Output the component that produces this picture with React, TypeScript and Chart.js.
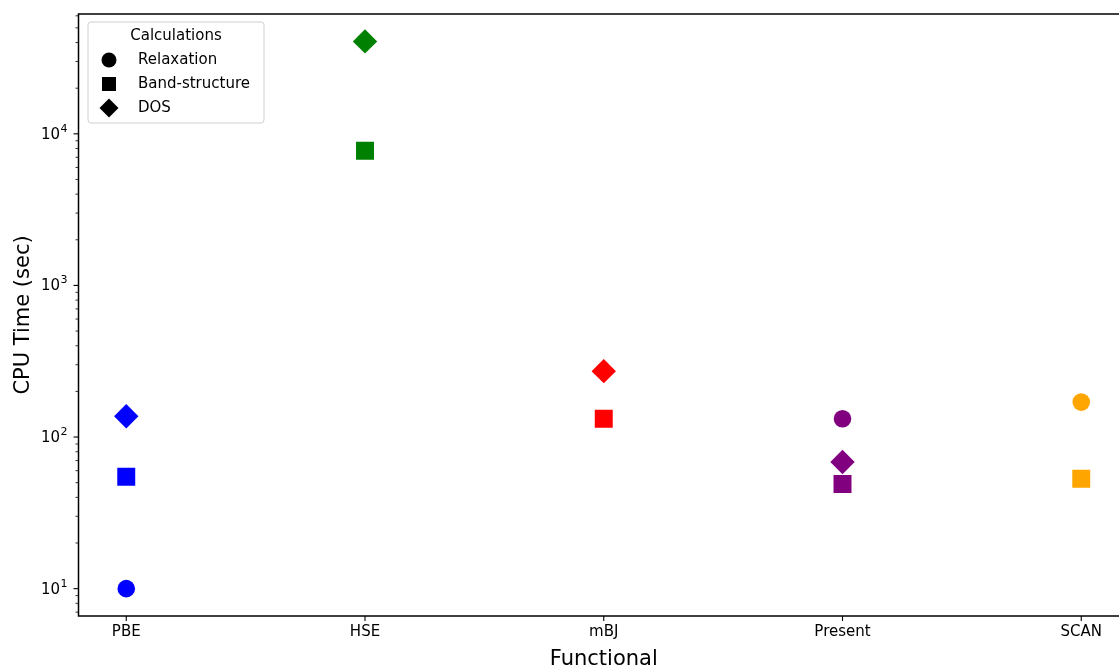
import React, { useEffect, useRef } from "react";
import { Chart, registerables } from "chart.js";

Chart.register(...registerables);

// ---- data ----
const categories = ["PBE", "HSE", "mBJ", "Present", "SCAN"];
const functionalColors = ["#0000ff", "#008000", "#ff0000", "#800080", "#ffa500"];
const calculations = ["Relaxation", "Band-structure", "DOS"];
const relaxation: (number | null)[] = [10.0, null, null, 132, 170];
const bandStructure: (number | null)[] = [54.7, 7740, 132, 49.0, 53.1];
const dos: (number | null)[] = [137, 40700, 272, 68.4, null];
const yMajorTicks = [10, 100, 1000, 10000];
const yTickBase = "10";
const yTickExponents = ["1", "2", "3", "4"];
const yMin = 6.6;
const yMax = 61700;
const xMin = -0.2;
const xMax = 4.2;

const seriesValues = [relaxation, bandStructure, dos];
const pointStyles = ["circle", "rect", "rectRot"];
const pointRadii = [8.8, 12.7, 12.2];

const FONT = "DejaVu Sans";
const CANVAS_W = 1119;
const CANVAS_H = 669;
// the axes box runs a little past the right edge of the picture
const AXES_RIGHT = 1129;

function minorTicks(): number[] {
  const out: number[] = [];
  for (let d = 1; d <= 10000; d *= 10) {
    for (let m = 2; m <= 9; m++) {
      const v = m * d;
      if (v >= yMin && v <= yMax) out.push(v);
    }
  }
  return out;
}

const zeroPadding = (scale: any) => {
  scale.paddingTop = 0;
  scale.paddingBottom = 0;
  scale.paddingLeft = 0;
  scale.paddingRight = 0;
};

const extendRightPlugin = {
  id: "extendRight",
  afterLayout(chart: any) {
    const a = chart.chartArea;
    const xs = chart.scales.x;
    a.right = AXES_RIGHT;
    a.width = a.right - a.left;
    xs.right = AXES_RIGHT;
    xs.width = xs.right - xs.left;
    xs.configure();
  },
};

const axesPlugin = {
  id: "mplAxes",
  afterDraw(chart: any) {
    const { ctx, chartArea: a, scales } = chart;
    const ys = scales.y;
    const xs = scales.x;
    ctx.save();
    ctx.strokeStyle = "#000";
    // y major ticks + labels
    ctx.lineWidth = 1.1;
    yMajorTicks.forEach((v, i) => {
      const py = ys.getPixelForValue(v);
      ctx.beginPath();
      ctx.moveTo(a.left - 5, py);
      ctx.lineTo(a.left, py);
      ctx.stroke();
      ctx.fillStyle = "#000";
      ctx.textBaseline = "alphabetic";
      ctx.textAlign = "left";
      ctx.font = `11px "${FONT}"`;
      const ws = ctx.measureText(yTickExponents[i]).width;
      ctx.font = `15px "${FONT}"`;
      const wb = ctx.measureText(yTickBase).width;
      const right = a.left - 11;
      const x0 = right - ws - wb - 0.5;
      ctx.fillText(yTickBase, x0, py + 5);
      ctx.font = `11px "${FONT}"`;
      ctx.fillText(yTickExponents[i], x0 + wb + 0.5, py - 2);
    });
    // y minor ticks
    ctx.lineWidth = 0.8;
    for (const v of minorTicks()) {
      const py = ys.getPixelForValue(v);
      ctx.beginPath();
      ctx.moveTo(a.left - 3, py);
      ctx.lineTo(a.left, py);
      ctx.stroke();
    }
    // x ticks
    ctx.lineWidth = 1.1;
    categories.forEach((_, i) => {
      const px = xs.getPixelForValue(i);
      ctx.beginPath();
      ctx.moveTo(px, a.bottom);
      ctx.lineTo(px, a.bottom + 5);
      ctx.stroke();
    });
    // spines
    ctx.lineWidth = 1.5;
    ctx.strokeRect(a.left, a.top, a.right - a.left, a.bottom - a.top);

    // legend
    const lx = a.left + 9.5;
    const ly = a.top + 8;
    const lw = 176;
    const lh = 101;
    const r = 3;
    ctx.beginPath();
    ctx.moveTo(lx + r, ly);
    ctx.lineTo(lx + lw - r, ly);
    ctx.arcTo(lx + lw, ly, lx + lw, ly + r, r);
    ctx.lineTo(lx + lw, ly + lh - r);
    ctx.arcTo(lx + lw, ly + lh, lx + lw - r, ly + lh, r);
    ctx.lineTo(lx + r, ly + lh);
    ctx.arcTo(lx, ly + lh, lx, ly + lh - r, r);
    ctx.lineTo(lx, ly + r);
    ctx.arcTo(lx, ly, lx + r, ly, r);
    ctx.closePath();
    ctx.fillStyle = "rgba(255,255,255,0.8)";
    ctx.fill();
    ctx.strokeStyle = "#d0d0d0";
    ctx.lineWidth = 1;
    ctx.stroke();

    ctx.fillStyle = "#000";
    ctx.font = `15px "${FONT}"`;
    ctx.textBaseline = "middle";
    ctx.textAlign = "center";
    ctx.fillText("Calculations", lx + lw / 2, ly + 14);
    ctx.textAlign = "left";
    calculations.forEach((name, k) => {
      const cy = ly + 38 + k * 24;
      const cx = lx + 21;
      ctx.beginPath();
      if (k === 0) {
        ctx.arc(cx, cy, 7.5, 0, Math.PI * 2);
      } else if (k === 1) {
        ctx.rect(cx - 7, cy - 7, 14, 14);
      } else {
        ctx.moveTo(cx, cy - 9.5);
        ctx.lineTo(cx + 9.5, cy);
        ctx.lineTo(cx, cy + 9.5);
        ctx.lineTo(cx - 9.5, cy);
        ctx.closePath();
      }
      ctx.fill();
      ctx.fillText(name, lx + 50, cy);
    });
    ctx.restore();
  },
};

export default function App() {
  const canvasRef = useRef<HTMLCanvasElement | null>(null);

  useEffect(() => {
    const canvas = canvasRef.current;
    if (!canvas) return;
    const colorOf = (c: any) => {
      const raw = c.raw as any;
      return raw ? functionalColors[raw.x] : "#000";
    };
    const datasets = calculations.map((name, k) => ({
      label: name,
      data: seriesValues[k]
        .map((v, i) => (v == null ? null : { x: i, y: v }))
        .filter((p) => p !== null) as { x: number; y: number }[],
      pointStyle: pointStyles[k],
      pointRadius: pointRadii[k],
      pointBorderWidth: 0,
      pointBackgroundColor: colorOf,
      pointBorderColor: colorOf,
      showLine: false,
    }));

    const chart = new Chart(canvas, {
      type: "scatter",
      data: { datasets: datasets as any },
      options: {
        animation: false,
        responsive: false,
        maintainAspectRatio: false,
        devicePixelRatio: 1,
        events: [],
        layout: { padding: { top: 14, right: 0, bottom: 0, left: 0 } },
        plugins: {
          legend: { display: false },
          tooltip: { enabled: false },
        },
        scales: {
          x: {
            type: "linear",
            min: xMin,
            max: xMax,
            grid: { display: false, drawTicks: false },
            border: { display: false },
            afterBuildTicks: (scale: any) => {
              scale.ticks = categories.map((_, i) => ({ value: i }));
            },
            afterFit: (scale: any) => {
              scale.height = 53;
              zeroPadding(scale);
            },
            ticks: {
              autoSkip: false,
              maxRotation: 0,
              padding: 7,
              color: "#000",
              font: { family: FONT, size: 15 },
              callback: (v: any) => categories[Number(v)] ?? "",
            },
            title: {
              display: true,
              text: "Functional",
              color: "#000",
              font: { family: FONT, size: 21, lineHeight: 0.86 },
              padding: { top: 0, bottom: 0 },
            },
          },
          y: {
            type: "logarithmic",
            min: yMin,
            max: yMax,
            grid: { display: false, drawTicks: false },
            border: { display: false },
            afterBuildTicks: (scale: any) => {
              scale.ticks = yMajorTicks.map((v) => ({ value: v, major: true }));
            },
            afterFit: (scale: any) => {
              scale.width = 78.5;
              zeroPadding(scale);
            },
            ticks: {
              display: false,
            },
            title: {
              display: true,
              text: "CPU Time (sec)",
              color: "#000",
              font: { family: FONT, size: 21 },
              padding: { top: 11, bottom: 0 },
            },
          },
        },
      },
      plugins: [extendRightPlugin, axesPlugin],
    });

    return () => {
      chart.destroy();
    };
  }, []);

  return (
    <div
      style={{
        position: "fixed",
        left: 0,
        top: 0,
        width: CANVAS_W,
        height: CANVAS_H,
        overflow: "hidden",
        background: "#fff",
      }}
    >
      <canvas
        ref={canvasRef}
        width={CANVAS_W}
        height={CANVAS_H}
        style={{ display: "block", width: CANVAS_W, height: CANVAS_H }}
      />
    </div>
  );
}
